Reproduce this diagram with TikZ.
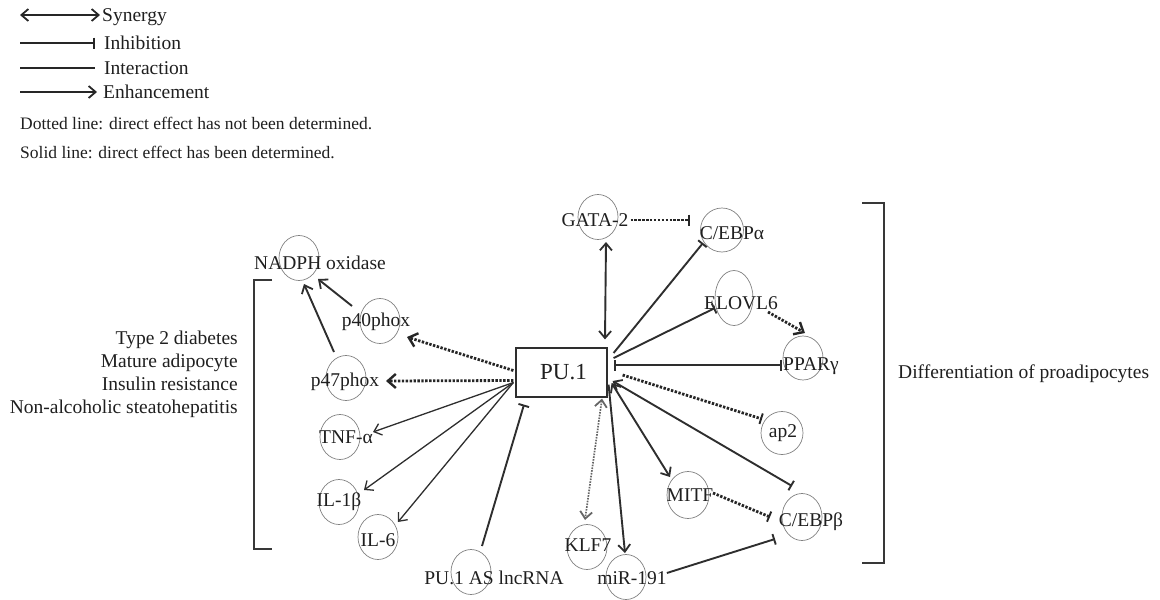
\documentclass[tikz,border=0pt]{standalone}
\usepackage{fontspec}
\setmainfont{Liberation Serif}
\usetikzlibrary{arrows.meta,shapes.geometric,calc}
\tikzset{
  myA/.tip={Straight Barb[length=7pt,width=12pt,line width=1.8pt]},
  myAt/.tip={Straight Barb[length=7pt,width=12pt,line width=1.3pt]},
  myAd/.tip={Straight Barb[length=8pt,width=14pt,line width=2.4pt]},
  myI/.tip={Bar[width=11pt,line width=1.9pt]},
}
\begin{document}
\begin{tikzpicture}[x=1pt,y=-1pt,
  txt/.style={inner sep=0pt, text height=13pt, text depth=0pt, font=\fontsize{19.5}{23}\selectfont, text=black!88},
  note/.style={inner sep=0pt, text height=11.6pt, text depth=0pt, font=\fontsize{17.5}{21}\selectfont, anchor=west, text=black!88},
  gene/.style={ellipse, draw=black!50, line width=0.7pt, minimum width=40pt, minimum height=45pt, inner sep=0pt},
  ln/.style={draw=black!82, line width=1.9pt},
  legln/.style={draw=black!85, line width=2pt},
  thinln/.style={draw=black!82, line width=1.3pt},
  dotln/.style={draw=black!85, line width=2.8pt, dash pattern=on 2.4pt off 1.5pt},
  ldotln/.style={draw=black!60, line width=1.7pt, dash pattern=on 1.6pt off 1.2pt},
  bracket/.style={draw=black!78, line width=1.8pt},
]
\useasboundingbox (0,0) rectangle (1160,600);

% ---------- legend ----------
\node[txt, anchor=west] (l-syn) at (102,15) {Synergy};
\node[txt, anchor=west] (l-inh) at (104,43) {Inhibition};
\node[txt, anchor=west] (l-int) at (104,68) {Interaction};
\node[txt, anchor=west] (l-enh) at (103,92) {Enhancement};
\coordinate (l-syn0) at (20,15);
\coordinate (l-inh0) at (20,43);
\coordinate (l-int0) at (20,68);
\coordinate (l-enh0) at (20,92);
\draw[legln, myA-myA] (l-syn0) -- ($(l-syn.west)+(-2,0)$);
\draw[legln, -myI] (l-inh0) -- ($(l-inh.west)+(-9,0)$);
\draw[legln] (l-int0) -- ($(l-int.west)+(-9,0)$);
\draw[legln, -myA] (l-enh0) -- ($(l-enh.west)+(-6,0)$);
\node[note] (n-dot) at (20,124) {Dotted line: direct effect has not been determined.};
\node[note] (n-sol) at (20,152.5) {Solid line: direct effect has been determined.};

% ---------- brackets and side texts ----------
\draw[bracket] (272,280) -- (254,280) -- (254,549) -- (272,549);
\draw[bracket] (862,203) -- (884,203) -- (884,563) -- (862,563);
\node[inner sep=0pt, font=\fontsize{19.5}{23}\selectfont, text=black!88, align=right, anchor=east] (t-left) at (238,374)
  {Type 2 diabetes\\Mature adipocyte\\Insulin resistance\\Non-alcoholic steatohepatitis};
\node[txt, anchor=west] (t-diff) at (898,372) {Differentiation of proadipocytes};

% ---------- central node ----------
\node[draw=black!82, line width=1.2pt, minimum width=91pt, minimum height=49pt, inner sep=0pt,
      font=\fontsize{23}{27}\selectfont, text=black!88] (pu) at (561.5,372.5) {\hspace*{4pt}PU.1};

% ---------- gene circles ----------
\node[gene] (c-nadph) at (299,258) {};
\node[gene] (c-p40) at (380,321) {};
\node[gene] (c-p47) at (346,378) {};
\node[gene] (c-tnf) at (340,437) {};
\node[gene] (c-il1b) at (339,502) {};
\node[gene] (c-il6) at (378,537) {};
\node[gene] (c-lnc) at (471,572) {};
\node[gene] (c-klf7) at (587,547) {};
\node[gene] (c-mir) at (626,577) {};
\node[gene, minimum width=42pt, minimum height=47pt] (c-mitf) at (688,495) {};
\node[gene, minimum height=47pt] (c-cebpb) at (802,517) {};
\node[gene, minimum width=42pt, minimum height=43pt] (c-ap2) at (782,433) {};
\node[gene] (c-gata) at (598,217) {};
\node[gene, minimum width=43pt, minimum height=44pt] (c-cebpa) at (722,230) {};
\node[gene, minimum width=38pt, minimum height=55pt] (c-elovl) at (734,298) {};
\node[gene, minimum height=44pt] (c-ppar) at (803,358) {};

% ---------- gene labels ----------
\node[txt] (t-nadph) at (320,263) {NADPH oxidase};
\node[txt] (t-p40) at (376,320) {p40phox};
\node[txt] (t-p47) at (345,380) {p47phox};
\node[txt] (t-tnf) at (346,437) {TNF-α};
\node[txt] (t-il1b) at (339,500) {IL-1β};
\node[txt] (t-il6) at (378,540) {IL-6};
\node[txt] (t-lnc) at (494,578) {PU.1 AS lncRNA};
\node[txt] (t-klf7) at (588,545) {KLF7};
\node[txt] (t-mir) at (632,578) {miR-191};
\node[txt] (t-mitf) at (690,495) {MITF};
\node[txt] (t-cebpb) at (811,520) {C/EBPβ};
\node[txt] (t-ap2) at (783,431) {ap2};
\node[txt] (t-gata) at (595,220) {GATA-2};
\node[txt] (t-cebpa) at (732,233) {C/EBPα};
\node[txt] (t-elovl) at (741,303) {ELOVL6};
\node[txt] (t-ppar) at (811,364) {PPARγ};

% ---------- connectors ----------
\draw[ln, myA-myA] ($(c-gata)+(8,25)$) -- ($(pu.north)+(43.5,-8)$);
\draw[dotln, -myI] ($(t-gata.east)+(2,0)$) -- ($(c-cebpa)+(-32,-10)$);
\draw[ln, -myI] ($(pu.east)+(6,-19.5)$) -- ($(c-cebpa)+(-19,13)$);
\draw[ln, -myI] ($(pu.east)+(6,-14.5)$) -- ($(c-elovl)+(-19,10)$);
\draw[dotln, -myAd] ($(c-elovl)+(34,14)$) -- ($(c-ppar)+(2,-25)$);
\draw[ln, myI-myI] ($(pu.east)+(6,-7.5)$) -- ($(c-ppar)+(-21,7)$);
\draw[dotln, -myI] ($(pu.east)+(15,2.5)$) -- ($(c-ap2)+(-20,-14)$);
\draw[ln, myA-myI] ($(pu.east)+(5,8.5)$) -- ($(c-cebpb)+(-10,-31)$);
\draw[ln, myA-myA] ($(pu.east)+(4,10.5)$) -- ($(c-mitf)+(-18,-18)$);
\draw[ldotln, myA-myA] ($(pu.south)+(40.5,1)$) -- ($(c-klf7)+(-2,-27)$);
\draw[ln, -myA] ($(pu.south east)+(1,-13)$) -- ($(c-mir)+(-1,-24)$);
\draw[ln, -myI] ($(t-mir.east)+(0,-5)$) -- ($(c-cebpb)+(-27,22)$);
\draw[dotln, -myI] ($(c-mitf)+(25,-2)$) -- ($(c-cebpb)+(-32,0)$);
\draw[dotln, -myAd] ($(pu.west)+(-2,-2)$) -- ($(c-p40)+(27,16)$);
\draw[dotln, -myAd] ($(pu.west)+(-2,8)$) -- ($(c-p47)+(40,3)$);
\draw[ln, -myA] ($(c-p40)+(-28,-15)$) -- ($(c-nadph)+(19,21)$);
\draw[ln, -myA] ($(c-p47)+(-12,-26)$) -- ($(c-nadph)+(5,26)$);
\draw[thinln, -myAt] ($(pu.west)+(-2,10)$) -- ($(c-tnf)+(33,-5)$);
\draw[thinln, -myAt] ($(pu.west)+(-2,10)$) -- ($(c-il1b)+(25,-12)$);
\draw[thinln, -myAt] ($(pu.west)+(-2,10)$) -- ($(c-il6)+(20,-15)$);
\draw[ln, -myI] ($(c-lnc)+(11,-26)$) -- ($(pu.south)+(-37.5,7)$);
\end{tikzpicture}
\end{document}
